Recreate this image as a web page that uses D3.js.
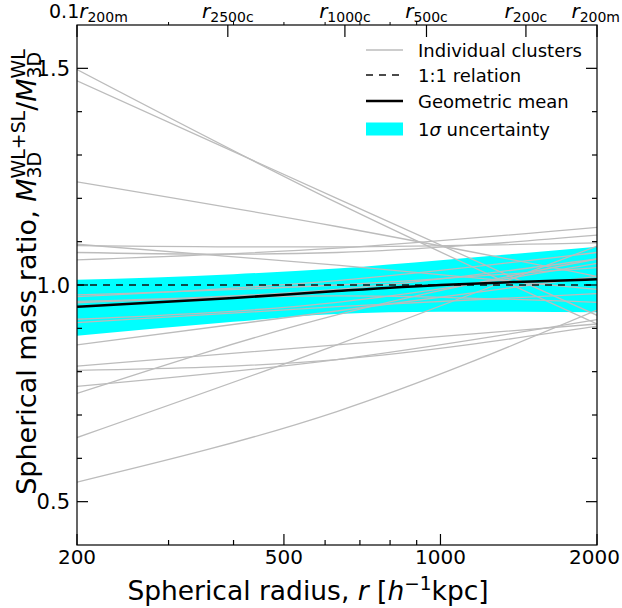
<!DOCTYPE html>
<html><head><meta charset="utf-8">
<script src="https://cdn.jsdelivr.net/npm/d3@7/dist/d3.min.js"></script>
<style>
body{margin:0;background:#fff}
text{font-family:"DejaVu Sans",sans-serif;fill:#000;white-space:pre}
</style>
</head><body>
<svg id="chart" width="622" height="608"></svg>
<script>
// ---------- data ----------
const clusterRadii = [200, 632, 2000];
const clusterRatios = [
  [1.497, 1.190, 0.910],
  [1.471, 1.200, 0.930],
  [1.238, 1.135, 1.020],
  [1.094, 1.046, 0.990],
  [1.091, 1.088, 1.097],
  [1.075, 1.075, 1.115],
  [1.058, 1.085, 1.133],
  [0.977, 1.000, 1.040],
  [0.973, 1.010, 1.075],
  [0.962, 0.990, 1.060],
  [0.959, 0.975, 0.960],
  [0.921, 0.960, 1.050],
  [0.913, 0.950, 0.980],
  [0.862, 0.940, 1.020],
  [0.813, 0.862, 0.910],
  [0.803, 0.828, 0.905],
  [0.766, 0.828, 0.920],
  [0.750, 0.931, 1.060],
  [0.648, 0.862, 1.090],
  [0.545, 0.708, 0.942]
];
const bandRadii = [200, 400, 632, 1000, 1400, 2000];
const bandLow   = [0.883, 0.915, 0.933, 0.938, 0.938, 0.937];
const bandHigh  = [1.012, 1.025, 1.038, 1.057, 1.072, 1.088];
const meanRatio = [0.950, 0.970, 0.986, 1.000, 1.007, 1.013];

const xMajorTicks = [200, 500, 1000, 2000];
const xMinorTicks = [300, 400, 600, 700, 800, 900];
const yMajorTicks = [0.5, 1.0, 1.5];
const yMinorTicks = [0.6, 0.7, 0.8, 0.9, 1.1, 1.2, 1.3, 1.4];
const topTickRadii = [200, 390, 655, 940, 1460, 2000];
const topTickPrefix = ["0.1", "", "", "", "", ""];
const topTickSub = ["200m", "2500c", "1000c", "500c", "200c", "200m"];
const legendLabels = ["Individual clusters", "1:1 relation", "Geometric mean", "uncertainty"];

// ---------- layout ----------
const L = 77, R = 597, T = 25, B = 545;
const svg = d3.select("#chart");
const x = d3.scaleLog().domain([200, 2000]).range([L, R]);
const y = d3.scaleLinear().domain([0.4, 1.6]).range([B, T]);

// band
const area = d3.area()
  .x((d, i) => x(bandRadii[i]))
  .y0((d, i) => y(bandLow[i]))
  .y1((d, i) => y(bandHigh[i]))
  .curve(d3.curveMonotoneX);
svg.append("path").datum(bandRadii).attr("d", area).attr("fill", "#00ffff");

// cluster lines
const cl = d3.line().x((d, i) => x(clusterRadii[i])).y(d => y(d)).curve(d3.curveNatural);
svg.append("defs").append("clipPath").attr("id", "clip")
  .append("rect").attr("x", L).attr("y", T).attr("width", R - L).attr("height", B - T);
const plot = svg.append("g").attr("clip-path", "url(#clip)");
plot.selectAll("path.cl").data(clusterRatios).join("path")
  .attr("class", "cl").attr("d", cl)
  .attr("fill", "none").attr("stroke", "#bcbcbc").attr("stroke-width", 1.3);

// 1:1 line
plot.append("line").attr("x1", L).attr("x2", R).attr("y1", y(1)).attr("y2", y(1))
  .attr("stroke", "#111").attr("stroke-width", 1.6).attr("stroke-dasharray", "7,6");

// mean
const ml = d3.line().x((d, i) => x(bandRadii[i])).y(d => y(d)).curve(d3.curveMonotoneX);
plot.append("path").datum(meanRatio).attr("d", ml)
  .attr("fill", "none").attr("stroke", "#000").attr("stroke-width", 2.5);

// frame
svg.append("rect").attr("x", L).attr("y", T).attr("width", R - L).attr("height", B - T)
  .attr("fill", "none").attr("stroke", "#000").attr("stroke-width", 1.2);

// ---------- axes ----------
const tickLine = (x1, y1, x2, y2, w) => svg.append("line")
  .attr("x1", x1).attr("y1", y1).attr("x2", x2).attr("y2", y2)
  .attr("stroke", "#000").attr("stroke-width", w || 1.2);

xMajorTicks.forEach(v => {
  tickLine(x(v), B, x(v), B - 11);
  const t = svg.append("text").attr("x", x(v)).attr("y", B + 19).attr("text-anchor", "middle")
    .attr("font-size", 20).text(v);
  const w = t.node().getComputedTextLength();
  if (x(v) + w / 2 > 620) t.attr("x", 620 - w / 2);
});
xMinorTicks.forEach(v => tickLine(x(v), B, x(v), B - 5));
xMinorTicks.concat([500]).forEach(v => tickLine(x(v), T, x(v), T - 3, 1));

yMajorTicks.forEach(v => {
  tickLine(L, y(v), L + 11, y(v));
  tickLine(R, y(v), R - 11, y(v));
  svg.append("text").attr("x", L - 7).attr("y", y(v) + 7.5).attr("text-anchor", "end")
    .attr("font-size", 21).text(d3.format(".1f")(v));
});
yMinorTicks.forEach(v => {
  tickLine(L, y(v), L + 5, y(v));
  tickLine(R, y(v), R - 5, y(v));
});

// rich text helper
function rich(g, pieces) {
  let cx = 0, lastStart = 0;
  pieces.forEach(p => {
    const start = p.stack ? lastStart : cx;
    const t = g.append("text").attr("x", start).attr("y", p.dy || 0)
      .attr("font-size", p.size).text(p.t);
    if (p.italic) t.attr("font-style", "italic");
    const w = t.node().getComputedTextLength();
    if (p.stack) cx = Math.max(cx, start + w);
    else { lastStart = start; cx = start + w; }
  });
  return cx;
}

// top ticks + labels
topTickRadii.forEach((v, i) => {
  tickLine(x(v), T, x(v), T + 12);
  const g = svg.append("g");
  const pieces = [];
  if (topTickPrefix[i]) pieces.push({t: topTickPrefix[i], size: 19});
  pieces.push({t: "r", size: 20, italic: true});
  pieces.push({t: topTickSub[i], size: 14, dy: 4});
  const w = rich(g, pieces);
  let gx = x(v) - w / 2;
  if (topTickPrefix[i]) gx = x(v) - 28;
  gx = Math.min(gx, 620 - w);
  g.attr("transform", `translate(${gx},18)`);
});

// x label
{
  const g = svg.append("g");
  const s = 26.5;
  const w = rich(g, [
    {t: "Spherical radius, ", size: s},
    {t: "r", size: s, italic: true},
    {t: " [", size: s},
    {t: "h", size: s, italic: true},
    {t: "−1", size: s * 0.7, dy: -10},
    {t: "kpc]", size: s}
  ]);
  g.attr("transform", `translate(${308 - w / 2},600)`);
}
// y label
{
  const g = svg.append("g");
  const s = 27;
  const w = rich(g, [
    {t: "Spherical mass ratio, ", size: s},
    {t: "M", size: s, italic: true},
    {t: "WL+SL", size: s * 0.7, dy: -11},
    {t: "3D", size: s * 0.7, dy: 5, stack: true},
    {t: "/", size: s},
    {t: "M", size: s, italic: true},
    {t: "WL", size: s * 0.7, dy: -11},
    {t: "3D", size: s * 0.7, dy: 5, stack: true}
  ]);
  g.attr("transform", `translate(36,${272 + w / 2}) rotate(-90)`);
}

// legend
const lg = svg.append("g");
const lx0 = 366, lx1 = 403, ltx = 418;
const rows = [50, 75, 101, 129];
lg.append("line").attr("x1", lx0).attr("x2", lx1).attr("y1", rows[0]).attr("y2", rows[0])
  .attr("stroke", "#bcbcbc").attr("stroke-width", 1.3);
lg.append("line").attr("x1", lx0).attr("x2", lx1).attr("y1", rows[1]).attr("y2", rows[1])
  .attr("stroke", "#111").attr("stroke-width", 1.6).attr("stroke-dasharray", "7,6");
lg.append("line").attr("x1", lx0).attr("x2", lx1).attr("y1", rows[2]).attr("y2", rows[2])
  .attr("stroke", "#000").attr("stroke-width", 2.5);
lg.append("rect").attr("x", lx0).attr("y", rows[3] - 6.5).attr("width", lx1 - lx0).attr("height", 13)
  .attr("fill", "#00ffff");
legendLabels.forEach((t, i) => {
  if (i < 3) {
    lg.append("text").attr("x", ltx).attr("y", rows[i] + 6.5).attr("font-size", 18).text(t);
  } else {
    const g = lg.append("g").attr("transform", `translate(${ltx},${rows[i] + 6.5})`);
    rich(g, [{t: "1", size: 18}, {t: "σ", size: 18, italic: true}, {t: " " + t, size: 18}]);
  }
});
</script>
</body></html>
